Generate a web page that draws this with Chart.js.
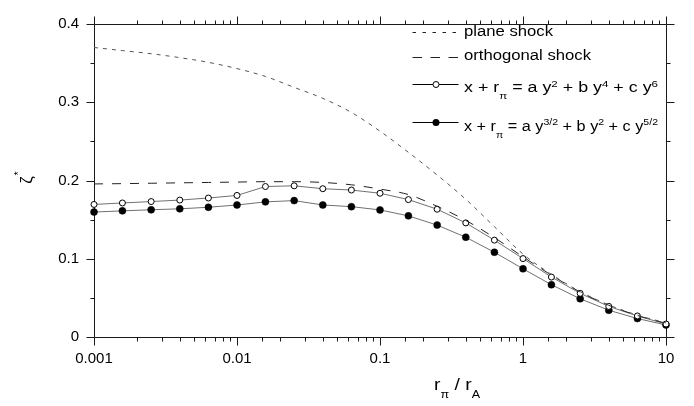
<!DOCTYPE html>
<html>
<head>
<meta charset="utf-8">
<style>
  html, body { margin: 0; padding: 0; background: #fff; }
  #wrap { width: 694px; height: 406px; }
</style>
<script src="https://cdn.jsdelivr.net/npm/chart.js@4"></script>
</head>
<body>
<div id="wrap"><canvas id="c" width="694" height="406"></canvas></div>
<script>
// ---- data ----
const xValues = [0.001, 0.00158, 0.00251, 0.00398, 0.00631, 0.01, 0.0158, 0.0251, 0.0398, 0.0631,
                 0.1, 0.158, 0.251, 0.398, 0.631, 1, 1.58, 2.51, 3.98, 6.31, 10];
const planeShock = [0.370, 0.366, 0.362, 0.357, 0.351, 0.343, 0.333, 0.319, 0.305, 0.287,
                    0.263, 0.236, 0.207, 0.176, 0.141, 0.106, 0.080, 0.058, 0.041, 0.028, 0.018];
const orthogonalShock = [0.1956, 0.1960, 0.1965, 0.1970, 0.1975, 0.1980, 0.1985, 0.1985, 0.1975, 0.1945,
                         0.189, 0.182, 0.167, 0.149, 0.127, 0.1025, 0.079, 0.0575, 0.0405, 0.0275, 0.0175];
const fitEven = [0.1694, 0.1713, 0.1731, 0.1750, 0.1776, 0.1809, 0.1923, 0.1932, 0.1895, 0.1878,
                 0.1837, 0.1756, 0.1633, 0.1458, 0.1238, 0.1002, 0.0766, 0.0558, 0.0391, 0.0269, 0.0166];
const fitHalf = [0.1597, 0.1612, 0.1626, 0.1638, 0.1658, 0.1687, 0.1727, 0.1743, 0.1687, 0.1666,
                 0.1624, 0.1548, 0.1430, 0.1275, 0.1083, 0.0872, 0.0668, 0.0489, 0.0342, 0.0236, 0.0154];
const xTickLabels = ['0.001', '0.01', '0.1', '1', '10'];
const yTickLabels = ['0', '0.1', '0.2', '0.3', '0.4'];
const seriesNames = ['plane shock', 'orthogonal shock'];

const FONT = '"Liberation Sans", Arial, Helvetica, sans-serif';
const pts = arr => arr.map((v, i) => ({ x: xValues[i], y: v }));
const isPow10 = v => Math.abs(Math.log10(v) - Math.round(Math.log10(v))) < 1e-6;
const isTenth = v => Math.abs(v * 10 - Math.round(v * 10)) < 1e-6;

function font(size) { return size + 'px ' + FONT; }
function drawRich(ctx, parts, x, base, size, targetW) {
  const small = size * 0.65;
  let w = 0;
  for (const p of parts) { ctx.font = font(p.sub || p.sup ? small : size); w += ctx.measureText(p.t).width; }
  const sx = targetW ? targetW / w : 1;
  ctx.save();
  ctx.translate(x, base);
  ctx.scale(sx, 1);
  ctx.textAlign = 'left';
  ctx.textBaseline = 'alphabetic';
  ctx.fillStyle = '#000';
  let cx = 0;
  for (const p of parts) {
    const s = p.sub || p.sup ? small : size;
    ctx.font = font(s);
    const dy = p.sub ? size * 0.5 : (p.sup ? -size * 0.38 : 0);
    ctx.fillText(p.t, cx, dy);
    cx += ctx.measureText(p.t).width;
  }
  ctx.restore();
}

const framePlugin = {
  id: 'frame',
  beforeDatasetsDraw(chart) {
    const { ctx, chartArea: a, scales: { x, y } } = chart;
    const L = Math.round(a.left) + 0.5, R = Math.round(a.right) + 0.5;
    const T = Math.round(a.top) + 0.5, B = Math.round(a.bottom) + 0.5;
    ctx.save();
    ctx.strokeStyle = '#1a1a1a';
    ctx.lineWidth = 1;
    ctx.beginPath();
    ctx.rect(L, T, R - L, B - T);
    for (const t of x.ticks) {
      const px = Math.round(x.getPixelForValue(t.value)) + 0.5;
      const len = isPow10(t.value) ? 8 : 4;
      ctx.moveTo(px, B); ctx.lineTo(px, B + len);
      ctx.moveTo(px, T); ctx.lineTo(px, T - len);
    }
    for (const t of y.ticks) {
      const py = Math.round(y.getPixelForValue(t.value)) + 0.5;
      const len = isTenth(t.value) ? 8 : 4;
      ctx.moveTo(L, py); ctx.lineTo(L - len, py);
      ctx.moveTo(R, py); ctx.lineTo(R + len, py);
    }
    ctx.stroke();
    ctx.restore();
  },
  afterDraw(chart) {
    const { ctx } = chart;
    ctx.save();
    // legend
    const lx0 = 412.5, lx1 = 458.5, tx = 464;
    ctx.strokeStyle = '#222';
    ctx.lineWidth = 1;
    ctx.setLineDash([3.5, 6.5]);
    ctx.beginPath(); ctx.moveTo(lx0, 32.5); ctx.lineTo(lx1 + 2, 32.5); ctx.stroke();
    ctx.setLineDash([9.5, 8.5]);
    ctx.beginPath(); ctx.moveTo(lx0, 57.5); ctx.lineTo(lx1 + 2, 57.5); ctx.stroke();
    ctx.setLineDash([]);
    ctx.strokeStyle = '#000';
    ctx.beginPath(); ctx.moveTo(lx0, 84.5); ctx.lineTo(lx1, 84.5); ctx.stroke();
    ctx.beginPath(); ctx.moveTo(lx0, 122.5); ctx.lineTo(lx1, 122.5); ctx.stroke();
    ctx.beginPath(); ctx.arc(436, 84.5, 3, 0, Math.PI * 2);
    ctx.fillStyle = '#fff'; ctx.fill(); ctx.stroke();
    ctx.beginPath(); ctx.arc(436, 122.5, 3.5, 0, Math.PI * 2);
    ctx.fillStyle = '#000'; ctx.fill();

    drawRich(ctx, [{ t: seriesNames[0] }], tx, 35.5, 14, 89);
    drawRich(ctx, [{ t: seriesNames[1] }], tx, 59.5, 14, 127);
    drawRich(ctx, [{ t: 'x + r' }, { t: 'π', sub: true }, { t: ' = a y' }, { t: '2', sup: true },
                   { t: ' + b y' }, { t: '4', sup: true }, { t: ' + c y' }, { t: '6', sup: true }],
             tx, 92, 14, 194);
    drawRich(ctx, [{ t: 'x + r' }, { t: 'π', sub: true }, { t: ' = a y' }, { t: '3/2', sup: true },
                   { t: ' + b y' }, { t: '2', sup: true }, { t: ' + c y' }, { t: '5/2', sup: true }],
             tx, 130.5, 14, 194);

    // x axis title
    drawRich(ctx, [{ t: 'r' }, { t: 'π', sub: true }, { t: ' / r' }, { t: 'A', sub: true }], 434, 390, 16, 46);

    // y axis title (rotated)
    ctx.save();
    ctx.translate(32, 180);
    ctx.rotate(-Math.PI / 2);
    ctx.fillStyle = '#000';
    ctx.textBaseline = 'alphabetic';
    ctx.textAlign = 'center';
    ctx.font = font(17);
    ctx.fillText('ζ', 0, 0);
    ctx.textAlign = 'left';
    ctx.font = font(11);
    ctx.fillText('*', 4.5, -10.5);
    ctx.restore();
    ctx.restore();
  }
};

new Chart(document.getElementById('c'), {
  type: 'line',
  data: {
    datasets: [
      { label: seriesNames[0], data: pts(planeShock), borderColor: '#555', borderWidth: 1,
        borderDash: [4, 5], pointRadius: 0, cubicInterpolationMode: 'monotone', fill: false },
      { label: seriesNames[1], data: pts(orthogonalShock), borderColor: '#222', borderWidth: 1,
        borderDash: [9, 9], pointRadius: 0, cubicInterpolationMode: 'monotone', fill: false },
      { label: 'even', data: pts(fitEven), borderColor: '#707070', borderWidth: 1, tension: 0,
        pointRadius: 3, pointBackgroundColor: '#fff', pointBorderColor: '#000', pointBorderWidth: 1,
        clip: false, fill: false },
      { label: 'half', data: pts(fitHalf), borderColor: '#707070', borderWidth: 1, tension: 0,
        pointRadius: 3.5, pointBackgroundColor: '#000', pointBorderColor: '#000', pointBorderWidth: 0.5,
        clip: false, fill: false }
    ]
  },
  options: {
    responsive: false,
    animation: false,
    devicePixelRatio: 1,
    layout: { padding: { top: 10, right: 28, left: 0, bottom: 0 } },
    plugins: { legend: { display: false }, tooltip: { enabled: false }, title: { display: false } },
    scales: {
      x: {
        type: 'logarithmic', min: 0.001, max: 10,
        grid: { display: false, drawTicks: false },
        border: { display: false },
        afterFit: s => { s.height = 69; },
        ticks: {
          autoSkip: false, maxRotation: 0, minRotation: 0, padding: 13,
          color: '#000', font: { family: FONT, size: 15 },
          callback: v => {
            if (!isPow10(v)) return '';
            const i = Math.round(Math.log10(v)) + 3;
            return xTickLabels[i] ?? '';
          }
        }
      },
      y: {
        type: 'linear', min: 0, max: 0.4,
        grid: { display: false, drawTicks: false },
        border: { display: false },
        afterFit: s => { s.width = 94; },
        ticks: {
          stepSize: 0.05, autoSkip: false, padding: 15,
          color: '#000', font: { family: FONT, size: 15 },
          callback: v => isTenth(v) ? (yTickLabels[Math.round(v * 10)] ?? '') : ''
        }
      }
    }
  },
  plugins: [framePlugin]
});
</script>
</body>
</html>
